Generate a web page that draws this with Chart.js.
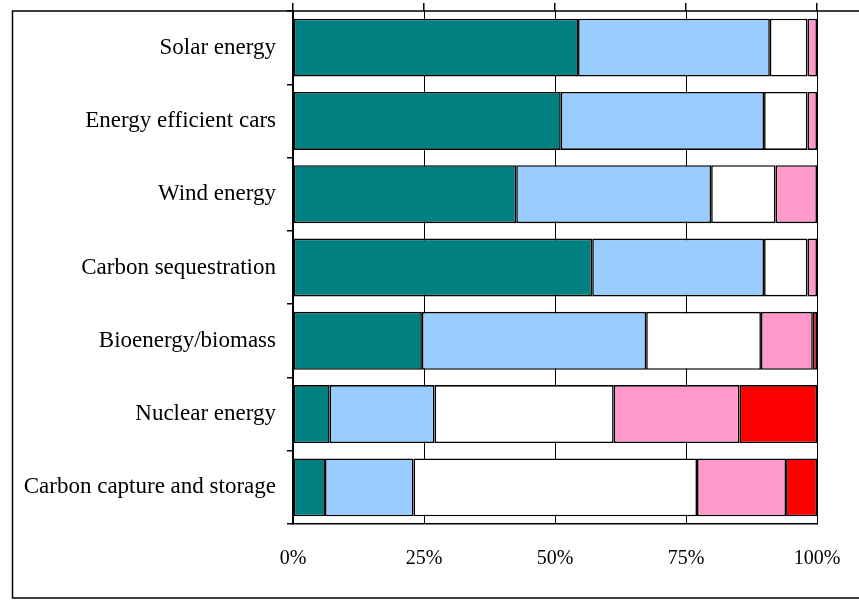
<!DOCTYPE html>
<html>
<head>
<meta charset="utf-8">
<script src="https://cdn.jsdelivr.net/npm/chart.js@4/dist/chart.umd.min.js"></script>
<style>
  html, body { margin: 0; padding: 0; background: #ffffff; }
  #wrap { width: 859px; height: 602px; position: relative; }
</style>
</head>
<body>
<div id="wrap"><canvas id="c" width="859" height="602"></canvas></div>
<script>
const categories = [
  "Solar energy",
  "Energy efficient cars",
  "Wind energy",
  "Carbon sequestration",
  "Bioenergy/biomass",
  "Nuclear energy",
  "Carbon capture and storage"
];
const series1 = [54.4, 51.1, 42.6, 57.1, 24.6, 7.0, 6.1];
const series2 = [36.6, 38.8, 37.2, 32.8, 42.8, 20.0, 16.9];
const series3 = [7.2, 8.3, 12.3, 8.3, 21.9, 34.2, 54.1];
const series4 = [1.8, 1.8, 7.9, 1.8, 9.9, 24.0, 17.0];
const series5 = [0, 0, 0, 0, 0.8, 14.8, 5.9];
const tickValues = [0, 25, 50, 75, 100];

const seriesNames = ["Series 1", "Series 2", "Series 3", "Series 4", "Series 5"];
const seriesColors = ["#008080", "#99CCFF", "#FFFFFF", "#FF99CC", "#FF0000"];
const seriesData = [series1, series2, series3, series4, series5];

const FONT = "'Liberation Serif', 'Times New Roman', serif";

const framePlugin = {
  id: 'frame',
  beforeDraw(chart) {
    const ctx = chart.ctx;
    ctx.save();
    ctx.fillStyle = '#ffffff';
    ctx.fillRect(0, 0, chart.width, chart.height);
    ctx.strokeStyle = '#000000';
    ctx.lineWidth = 1.5;
    ctx.strokeRect(12.5, 11, chart.width + 20, 587);
    ctx.restore();
  }
};

function zeroPad(scale) {
  scale.paddingTop = 0;
  scale.paddingBottom = 0;
  scale.paddingLeft = 0;
  scale.paddingRight = 0;
}

new Chart(document.getElementById('c'), {
  type: 'bar',
  data: {
    labels: categories,
    datasets: seriesData.map((d, i) => ({
      label: seriesNames[i],
      data: d,
      backgroundColor: seriesColors[i],
      borderColor: '#000000',
      borderWidth: 1.6,
      borderSkipped: false,
      barPercentage: 0.79,
      categoryPercentage: 1.0
    }))
  },
  options: {
    indexAxis: 'y',
    responsive: false,
    animation: false,
    layout: { padding: { top: 3, right: 42, left: 0, bottom: 0 } },
    plugins: {
      legend: { display: false },
      title: { display: false },
      tooltip: { enabled: false }
    },
    scales: {
      x: {
        stacked: true,
        min: 0,
        max: 100,
        position: 'bottom',
        afterBuildTicks(scale) { scale.ticks = tickValues.map(v => ({ value: v })); },
        afterFit(scale) { scale.height = 78; zeroPad(scale); },
        ticks: {
          callback: v => v + '%',
          color: '#000000',
          font: { family: FONT, size: 20 },
          padding: 23,
          maxRotation: 0
        },
        grid: {
          color: '#000000',
          lineWidth: 1,
          drawTicks: false
        },
        border: { display: true, color: '#000000', width: 1.5 }
      },
      x2: {
        stacked: true,
        min: 0,
        max: 100,
        position: 'top',
        afterBuildTicks(scale) { scale.ticks = tickValues.map(v => ({ value: v })); },
        afterFit(scale) { scale.height = 8; zeroPad(scale); },
        ticks: { display: false },
        grid: {
          color: '#000000',
          lineWidth: 1.5,
          drawOnChartArea: false,
          drawTicks: true,
          tickLength: 8
        },
        border: { display: false }
      },
      y: {
        stacked: true,
        afterFit(scale) { scale.width = 293; zeroPad(scale); },
        ticks: {
          color: '#000000',
          font: { family: FONT, size: 23 },
          padding: 11
        },
        grid: {
          color: '#000000',
          lineWidth: 1.5,
          drawOnChartArea: false,
          drawTicks: true,
          tickLength: 6
        },
        border: { display: true, color: '#000000', width: 1.5 }
      }
    }
  },
  plugins: [framePlugin]
});
</script>
</body>
</html>
